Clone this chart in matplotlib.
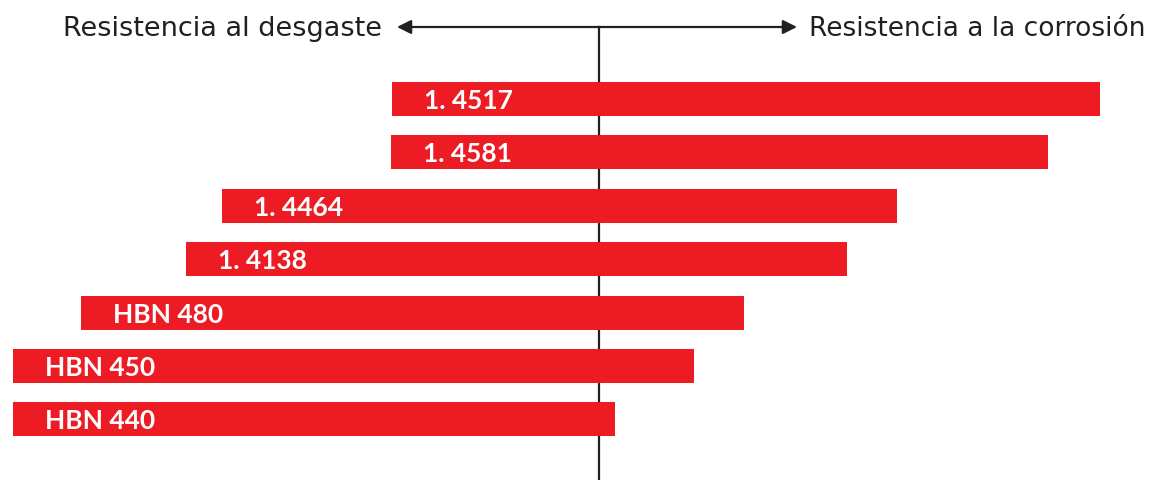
import matplotlib.pyplot as plt

# Aceros: resistencia al desgaste (izquierda) y a la corrosion (derecha)
materiales = ["1. 4517", "1. 4581", "1. 4464", "1. 4138", "HBN 480", "HBN 450", "HBN 440"]
desgaste = [207, 208, 377, 413, 518, 586, 586]
corrosion = [501, 449, 298, 248, 145, 95, 16]

titulo_izq = "Resistencia al desgaste"
titulo_der = "Resistencia a la corrosión"

ROJO = "#ED1C24"
GRIS = "#231F20"

fig = plt.figure(figsize=(11.6, 4.81), dpi=100)
ax = fig.add_axes([0, 0, 1, 1])

paso = 53.4  # px entre barras
y0 = 100     # centro de la primera barra (px)
ax.set_xlim(-599, 1160 - 599)
ax.set_ylim((481 - y0) / paso, -y0 / paso)
ax.axis("off")

pos = list(range(len(materiales)))
ax.barh(pos, [d + c for d, c in zip(desgaste, corrosion)],
        left=[-d for d in desgaste], height=34 / paso, color=ROJO, zorder=3)

for i, nombre in enumerate(materiales):
    ax.text(-desgaste[i] + 32, i + 9 / paso, nombre, color="white",
            fontsize=19, fontweight="bold", family="Lato", va="baseline", zorder=4)

# eje central (detras de las barras) y flechas
y_flecha = (28 - y0) / paso
ax.plot([0, 0], [y_flecha, (481 - y0) / paso], color=GRIS, lw=1.6, zorder=1)
for x_fin in (-202, 198):
    ax.annotate("", xy=(x_fin, y_flecha), xytext=(0, y_flecha),
                arrowprops=dict(arrowstyle="-|>,head_length=0.6,head_width=0.3",
                                color=GRIS, lw=1.6, shrinkA=0, shrinkB=0,
                                mutation_scale=14),
                zorder=2)

y_texto = (36 - y0) / paso
ax.text(-217, y_texto, titulo_izq, ha="right", va="baseline", fontsize=19.5, color=GRIS)
ax.text(210, y_texto, titulo_der, ha="left", va="baseline", fontsize=19, color=GRIS)

fig.savefig("out.png", dpi=100)
